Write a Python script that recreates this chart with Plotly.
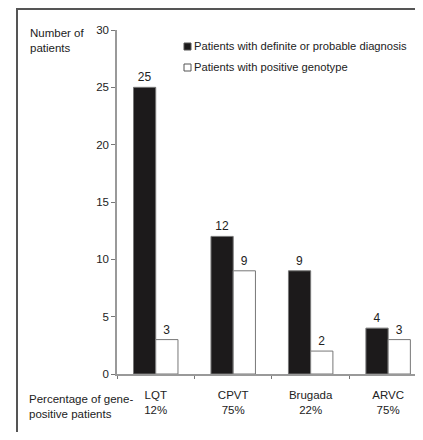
import plotly.graph_objects as go

categories = ["LQT", "CPVT", "Brugada", "ARVC"]
gene_positive_pct = ["12%", "75%", "22%", "75%"]
diagnosis_counts = [25, 12, 9, 4]
genotype_counts = [3, 9, 2, 3]
series_names = ["Patients with definite or probable diagnosis",
                "Patients with positive genotype"]
y_ticks = [0, 5, 10, 15, 20, 25, 30]

# the page body has an 8px margin; figure is sized so the page does not scroll
OFF = 8
W, H = 415, 424
# plot area in page pixels: x 117..423, y 30..374
PL, PR, PT, PB = 117, 423, 30, 374
L = PL - OFF
T = PT - OFF
R = W - (PR - OFF)
B = H - (PB - OFF)
PW, PH = W - L - R, H - T - B

def px2x(px):
    return (px - PL) / PW

def px2y(py):
    return (PB - py) / PH

FONT = "Liberation Sans, Arial, sans-serif"
TXT = "#222222"
FS = 11.5

xlabels = [f"{c}<br>{p}" for c, p in zip(categories, gene_positive_pct)]

fig = go.Figure()
fig.add_trace(go.Bar(
    x=xlabels, y=diagnosis_counts, name=series_names[0],
    marker=dict(color="#1c1a1b", line=dict(color="#777777", width=1)),
    text=[str(v) for v in diagnosis_counts], textposition="outside",
    textfont=dict(family=FONT, size=12, color=TXT), cliponaxis=False,
    showlegend=False,
))
fig.add_trace(go.Bar(
    x=xlabels, y=genotype_counts, name=series_names[1],
    marker=dict(color="#ffffff", line=dict(color="#777777", width=1)),
    text=[str(v) for v in genotype_counts], textposition="outside",
    textfont=dict(family=FONT, size=12, color=TXT), cliponaxis=False,
    showlegend=False,
))

shapes = []
annotations = []

# frame (left and top border)
shapes.append(dict(type="path", xref="paper", yref="paper",
                   path=f"M {px2x(17)},{px2y(450)} L {px2x(17)},{px2y(9)} L {px2x(440)},{px2y(9)}",
                   line=dict(color="#555555", width=2)))

# legend drawn manually
leg = [(series_names[0], "#1c1a1b", 43), (series_names[1], "#ffffff", 64)]
for name, col, top in leg:
    shapes.append(dict(type="rect", xref="paper", yref="paper",
                       x0=px2x(184), x1=px2x(191), y0=px2y(top + 7), y1=px2y(top),
                       fillcolor=col, line=dict(color="#555555", width=1)))
    annotations.append(dict(xref="paper", yref="paper", x=px2x(192), y=px2y(top + 3.5),
                            xanchor="left", yanchor="middle", showarrow=False,
                            text=name, font=dict(family=FONT, size=11.2, color=TXT)))

annotations.append(dict(xref="paper", yref="paper", x=px2x(28), y=px2y(25),
                        xanchor="left", yanchor="top", align="left", showarrow=False,
                        text="Number of<br>patients",
                        font=dict(family=FONT, size=FS, color=TXT)))
annotations.append(dict(xref="paper", yref="paper", x=px2x(27), y=px2y(391),
                        xanchor="left", yanchor="top", align="left", showarrow=False,
                        text="Percentage of gene-<br>positive patients",
                        font=dict(family=FONT, size=FS, color=TXT)))

fig.update_layout(
    width=W, height=H,
    margin=dict(l=L, r=R, t=T, b=B, pad=0),
    paper_bgcolor="white", plot_bgcolor="white",
    barmode="group", bargap=0.426, bargroupgap=0,
    font=dict(family=FONT, size=FS, color=TXT),
    shapes=shapes, annotations=annotations,
    xaxis=dict(range=[-0.5, 3.45], showline=True, linecolor="#999999", linewidth=1.5,
               ticks="outside", tickson="boundaries", ticklen=3, tickcolor="#777777",
               showgrid=False, zeroline=False, ticklabelstandoff=9,
               tickfont=dict(family=FONT, size=FS, color=TXT)),
    yaxis=dict(range=[0, 30], tickvals=y_ticks, showline=True, linecolor="#999999",
               linewidth=1.5, ticks="outside", ticklen=4, tickcolor="#777777",
               showgrid=False, zeroline=False,
               tickfont=dict(family=FONT, size=FS, color=TXT)),
)

fig.write_html("out.html", config={"displayModeBar": False})
